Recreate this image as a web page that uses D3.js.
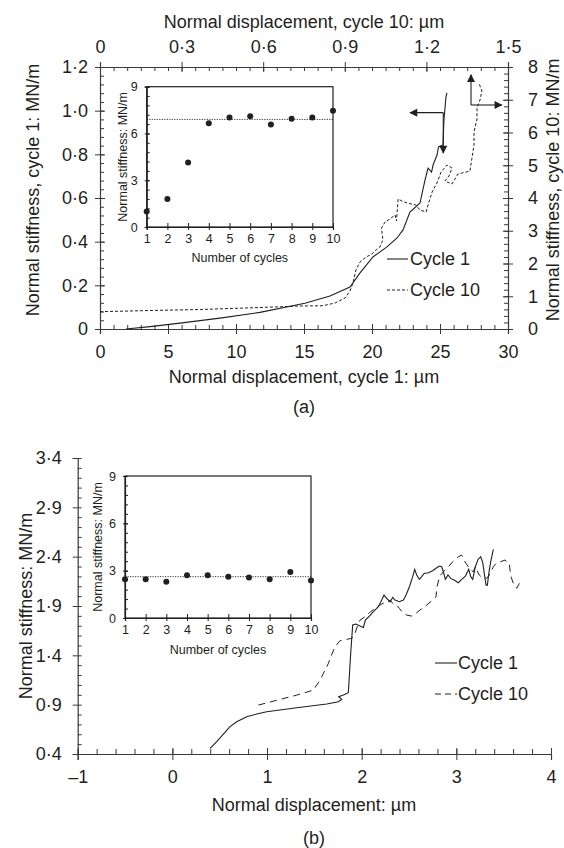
<!DOCTYPE html>
<html><head><meta charset="utf-8">
<script src="https://cdn.jsdelivr.net/npm/d3@7"></script>
<style>
body{margin:0;background:#fff}
svg text{font-family:"Liberation Sans",Arial,sans-serif;fill:#231f20}
</style>
</head><body>
<svg id="c" width="564" height="848"></svg>
<script>
// ---------------- DATA ----------------
const cycles = [1,2,3,4,5,6,7,8,9,10];
const insetAStiff = [1.0,1.8,4.14,6.65,7.02,7.1,6.57,6.95,7.02,7.46];
const insetAMean = 6.9;
const insetBStiff = [2.45,2.45,2.29,2.71,2.71,2.62,2.56,2.45,2.92,2.37];
const insetBMean = 2.62;

// (a) cycle 1: bottom axis (um) / left axis (MN/m)
const aC1X = [1.91,3.68,5.88,8.82,11.76,15.07,16.91,18.38,19.12,20.07,21.10,21.84,22.28,22.79,23.53,23.90,24.12,24.38,24.49,24.78,24.89,25.22,25.29,25.44,25.51];
const aC1Y = [0,0.011,0.027,0.050,0.076,0.118,0.151,0.192,0.257,0.330,0.376,0.417,0.454,0.536,0.577,0.683,0.737,0.719,0.751,0.797,0.834,0.843,0.957,1.063,1.081];
// (a) cycle 10: top axis (um) / right axis (MN/m)
const aC10X = [0,0.184,0.368,0.588,0.735,0.820,0.864,0.901,0.919,0.930,0.941,0.956,0.978,1.000,1.015,1.029,1.040,1.035,1.048,1.066,1.085,1.090,1.096,1.110,1.129,1.162,1.176,1.199,1.206,1.221,1.239,1.254,1.276,1.294,1.283,1.268,1.294,1.316,1.346,1.360,1.375,1.375,1.386,1.386,1.397,1.404,1.393];
const aC10Y = [0.528,0.565,0.595,0.656,0.702,0.711,0.794,0.947,1.160,1.405,1.802,2.046,2.198,2.290,2.412,2.504,2.718,3.084,3.267,3.359,3.481,3.298,3.969,3.908,3.847,3.786,3.634,3.573,3.786,4.183,4.458,4.794,5.008,4.916,4.672,4.519,4.427,4.733,4.794,4.824,5.618,6.015,6.412,6.748,6.992,7.267,7.511];

// (b)
const bC1X = [0.398,0.469,0.539,0.609,0.680,0.786,0.891,0.997,1.314,1.631,1.754,1.789,1.757,1.807,1.859,1.884,1.905,1.940,1.983,2.018,2.039,2.081,2.124,2.176,2.212,2.236,2.264,2.300,2.328,2.352,2.398,2.441,2.469,2.504,2.539,2.560,2.581,2.610,2.634,2.659,2.705,2.750,2.793,2.821,2.845,2.863,2.884,2.912,2.940,2.976,3.021,3.057,3.095,3.131,3.152,3.173,3.201,3.229,3.257,3.279,3.300,3.314,3.328,3.342,3.363,3.391];
const bC1Y = [0.457,0.525,0.602,0.677,0.727,0.778,0.805,0.829,0.869,0.906,0.930,0.953,0.981,0.997,1.021,1.420,1.707,1.717,1.697,1.683,1.758,1.798,1.842,1.893,1.960,2.011,1.977,1.943,1.987,1.960,1.943,1.960,2.011,2.095,2.197,2.271,2.214,2.170,2.197,2.230,2.237,2.257,2.288,2.305,2.298,2.247,2.170,2.214,2.180,2.163,2.136,2.170,2.203,2.271,2.197,2.170,2.298,2.372,2.399,2.339,2.197,2.112,2.112,2.224,2.349,2.474];
const bC10X = [0.909,1.138,1.314,1.490,1.560,1.648,1.666,1.719,1.771,1.842,1.895,1.930,1.955,1.983,2.036,2.081,2.141,2.194,2.236,2.271,2.300,2.335,2.370,2.398,2.433,2.476,2.528,2.564,2.616,2.687,2.750,2.786,2.793,2.821,2.863,2.916,2.962,3.021,3.057,3.081,3.102,3.127,3.152,3.180,3.198,3.215,3.243,3.268,3.293,3.321,3.349,3.391,3.426,3.469,3.514,3.560,3.567,3.578,3.602,3.638,3.666,3.690];
const bC10Y = [0.896,0.953,0.997,1.048,1.149,1.318,1.369,1.488,1.548,1.562,1.572,1.623,1.697,1.758,1.791,1.832,1.876,1.910,1.933,1.933,1.960,1.920,1.910,1.876,1.832,1.808,1.798,1.818,1.859,1.910,1.960,1.994,2.079,2.197,2.247,2.298,2.349,2.399,2.416,2.366,2.332,2.298,2.264,2.247,2.298,2.264,2.214,2.190,2.197,2.180,2.214,2.298,2.339,2.349,2.366,2.332,2.264,2.197,2.129,2.079,2.129,2.170];

// tick labels
const aBottomTicks = [0,5,10,15,20,25,30];
const aLeftTicks = [0,0.2,0.4,0.6,0.8,1.0,1.2];
const aTopTicks = [0,0.3,0.6,0.9,1.2,1.5];
const aRightTicks = [0,1,2,3,4,5,6,7,8];
const bXTicks = [-1,0,1,2,3,4];
const bYTicks = [0.4,0.9,1.4,1.9,2.4,2.9,3.4];
const insetYTicks = [0,3,6,9];

// arrows in (a): [x, y] in the respective axis units
const arrowC1 = {x:25.24, y:0.991, xEnd:22.8, yEnd:0.806};
const arrowC10 = {x:1.364, y:6.84, xEnd:1.477, yEnd:7.76};

// ---------------- DRAW ----------------
const svg = d3.select("#c");
const INK = "#231f20";
const FONT = "Liberation Sans, Arial, sans-serif";
const dot = d => d === 0 ? "0" : d3.format(".1f")(d).replace(".", "\u00B7");

svg.append("defs").append("marker").attr("id","ah").attr("viewBox","0 0 10 10")
  .attr("refX",9).attr("refY",5).attr("markerWidth",9).attr("markerHeight",8)
  .attr("markerUnits","userSpaceOnUse").attr("orient","auto")
  .append("path").attr("d","M0,0L10,5L0,10Z").attr("fill",INK);

function drawAxis(parent, scale, orient, majors, minors, fmt, o) {
  const gen = {bottom:d3.axisBottom, top:d3.axisTop, left:d3.axisLeft, right:d3.axisRight}[orient];
  const g = parent.append("g").attr("transform", `translate(${o.x||0},${o.y||0})`)
    .style("color", o.color || "#3a3a3a");
  if (minors) {
    g.append("g").call(gen(scale).tickValues(minors).tickFormat("").tickSizeOuter(0).tickSize(-o.minorIn))
      .call(s => s.select(".domain").remove());
  }
  const ga = g.append("g").call(gen(scale).tickValues(majors).tickFormat(fmt)
     .tickSizeOuter(0).tickSize(o.majorOut).tickPadding(o.pad));
  const k = (orient === "bottom" || orient === "right") ? 1 : -1;
  const attr = (orient === "bottom" || orient === "top") ? "y1" : "x1";
  ga.selectAll(".tick line").attr(attr, -k * o.majorIn);
  ga.attr("font-family", FONT).attr("font-size", o.fs);
  ga.selectAll("text").style("fill", INK);
  g.selectAll("path.domain").attr("stroke-width", o.sw || 1.2);
  g.selectAll(".tick line").attr("stroke-width", o.tw || 1);
  return g;
}

function label(txt, x, y, fs, rot, anchor) {
  const t = svg.append("text").attr("font-size", fs).attr("text-anchor", anchor || "middle")
    .attr("dominant-baseline", "central").text(txt);
  if (rot) t.attr("transform", `translate(${x},${y}) rotate(${rot})`);
  else t.attr("x", x).attr("y", y);
  return t;
}

// ===== (a) =====
const xA = d3.scaleLinear([0,30],[100,508]);
const yA = d3.scaleLinear([0,1.2],[329,67]);
const xA10 = d3.scaleLinear([0,1.5],[100,508]);
const yA10 = d3.scaleLinear([0,8],[329,67]);

drawAxis(svg, xA, "bottom", aBottomTicks, d3.range(0,31,1), d=>String(d), {y:329, majorOut:5, majorIn:5, minorIn:4, pad:11, fs:18});
drawAxis(svg, yA, "left", aLeftTicks, d3.range(0,1.201,0.04), dot, {x:100, majorOut:5, majorIn:5, minorIn:4, pad:7, fs:18});
drawAxis(svg, xA10, "top", aTopTicks, d3.range(0,1.501,0.05), dot, {y:67, majorOut:5, majorIn:5, minorIn:4, pad:9, fs:18});
drawAxis(svg, yA10, "right", aRightTicks, d3.range(0,8.01,0.2), d=>String(d), {x:508, majorOut:5, majorIn:5, minorIn:4, pad:15, fs:18});

label("Normal displacement, cycle 10: \u00B5m", 304, 22, 18);
label("Normal displacement, cycle 1: \u00B5m", 304, 377, 18);
label("(a)", 304, 407, 18);
label("Normal stiffness, cycle 1: MN/m", 33, 190, 18, -90);
label("Normal stiffness, cycle 10: MN/m", 553, 190, 18, -90);

const lineA1 = d3.line().x((d,i)=>xA(aC1X[i])).y((d,i)=>yA(aC1Y[i]));
svg.append("path").attr("d", lineA1(aC1X)).attr("fill","none").attr("stroke",INK).attr("stroke-width",1.1);
const lineA10 = d3.line().x((d,i)=>xA10(aC10X[i])).y((d,i)=>yA10(aC10Y[i]));
svg.append("path").attr("d", lineA10(aC10X)).attr("fill","none").attr("stroke",INK).attr("stroke-width",1)
  .attr("stroke-dasharray","3,2");

// arrows
function arrow(x1,y1,x2,y2){
  svg.append("line").attr("x1",x1).attr("y1",y1).attr("x2",x2).attr("y2",y2)
    .attr("stroke",INK).attr("stroke-width",1.1).attr("marker-end","url(#ah)");
}
arrow(xA(arrowC1.x), yA(arrowC1.y), xA(arrowC1.xEnd), yA(arrowC1.y));
arrow(xA(arrowC1.x), yA(arrowC1.y), xA(arrowC1.x), yA(arrowC1.yEnd));
arrow(xA10(arrowC10.x), yA10(arrowC10.y), xA10(arrowC10.xEnd), yA10(arrowC10.y));
arrow(xA10(arrowC10.x), yA10(arrowC10.y), xA10(arrowC10.x), yA10(arrowC10.yEnd));

// legend (a)
svg.append("line").attr("x1",387).attr("x2",408).attr("y1",259).attr("y2",259).attr("stroke",INK).attr("stroke-width",1.1);
label("Cycle 1", 410, 259, 18, 0, "start");
svg.append("line").attr("x1",387).attr("x2",408).attr("y1",290).attr("y2",290).attr("stroke",INK).attr("stroke-width",1).attr("stroke-dasharray","3,2");
label("Cycle 10", 410, 290, 18, 0, "start");

// inset (a)
function inset(x0,x1,y0,y1,vals,mean,labY,titleX,nocY) {
  const xs = d3.scaleLinear([1,10],[x0,x1]);
  const ys = d3.scaleLinear([0,9],[y0,y1]);
  const g = svg.append("g");
  g.append("rect").attr("x",x0).attr("y",y1).attr("width",x1-x0).attr("height",y0-y1)
    .attr("fill","#fff").attr("stroke",INK).attr("stroke-width",1.2);
  drawAxis(g, xs, "bottom", cycles, null, d=>String(d), {y:y0, majorOut:3, majorIn:4, pad:4, fs:12.5, color:INK});
  drawAxis(g, ys, "left", insetYTicks, d3.range(0,9.01,0.6), d=>String(d), {x:x0, majorOut:2, majorIn:3, minorIn:3, pad:7, fs:12.5, color:INK});
  g.append("line").attr("x1",x0).attr("x2",x1).attr("y1",ys(mean)).attr("y2",ys(mean))
    .attr("stroke",INK).attr("stroke-width",0.9).attr("stroke-dasharray","1.2,1.3");
  g.selectAll("circle.p").data(vals).join("circle").attr("class","p")
    .attr("cx",(d,i)=>xs(cycles[i])).attr("cy",d=>ys(d)).attr("r",3).attr("fill",INK);
  label("Normal stiffness: MN/m", titleX, (y0+y1)/2, 12.5, -90);
  label("Number of cycles", (x0+x1)/2, nocY, 12.5);
}
inset(146.7, 333, 227, 86.7, insetAStiff, insetAMean, 242, 123, 258);

// ===== (b) =====
const xB = d3.scaleLinear([-1,4],[77.7,551]);
const yB = d3.scaleLinear([0.4,3.4],[754,458]);
drawAxis(svg, xB, "bottom", bXTicks, d3.range(-1,4.01,0.2), d => d < 0 ? "\u2013" + Math.abs(d) : String(d), {y:754, majorOut:6, majorIn:6, minorIn:5, pad:10, fs:18});
drawAxis(svg, yB, "left", bYTicks, d3.range(0.4,3.401,0.1), dot, {x:77.7, majorOut:5, majorIn:0, minorIn:4, pad:11, fs:18});

label("Normal displacement: \u00B5m", 314, 805, 18);
label("(b)", 314, 838, 18);
label("Normal stiffness: MN/m", 26, 606, 18, -90);

const lineB1 = d3.line().x((d,i)=>xB(bC1X[i])).y((d,i)=>yB(bC1Y[i]));
svg.append("path").attr("d", lineB1(bC1X)).attr("fill","none").attr("stroke",INK).attr("stroke-width",1.1);
const lineB10 = d3.line().x((d,i)=>xB(bC10X[i])).y((d,i)=>yB(bC10Y[i]));
svg.append("path").attr("d", lineB10(bC10X)).attr("fill","none").attr("stroke",INK).attr("stroke-width",1)
  .attr("stroke-dasharray","7,5");

svg.append("line").attr("x1",435).attr("x2",457).attr("y1",663).attr("y2",663).attr("stroke",INK).attr("stroke-width",1.1);
label("Cycle 1", 458, 663, 18, 0, "start");
svg.append("line").attr("x1",435).attr("x2",457).attr("y1",694).attr("y2",694).attr("stroke",INK).attr("stroke-width",1).attr("stroke-dasharray","6,4");
label("Cycle 10", 458, 694, 18, 0, "start");

inset(125, 311, 618, 476, insetBStiff, insetBMean, 633, 98, 650);
</script>
</body></html>
